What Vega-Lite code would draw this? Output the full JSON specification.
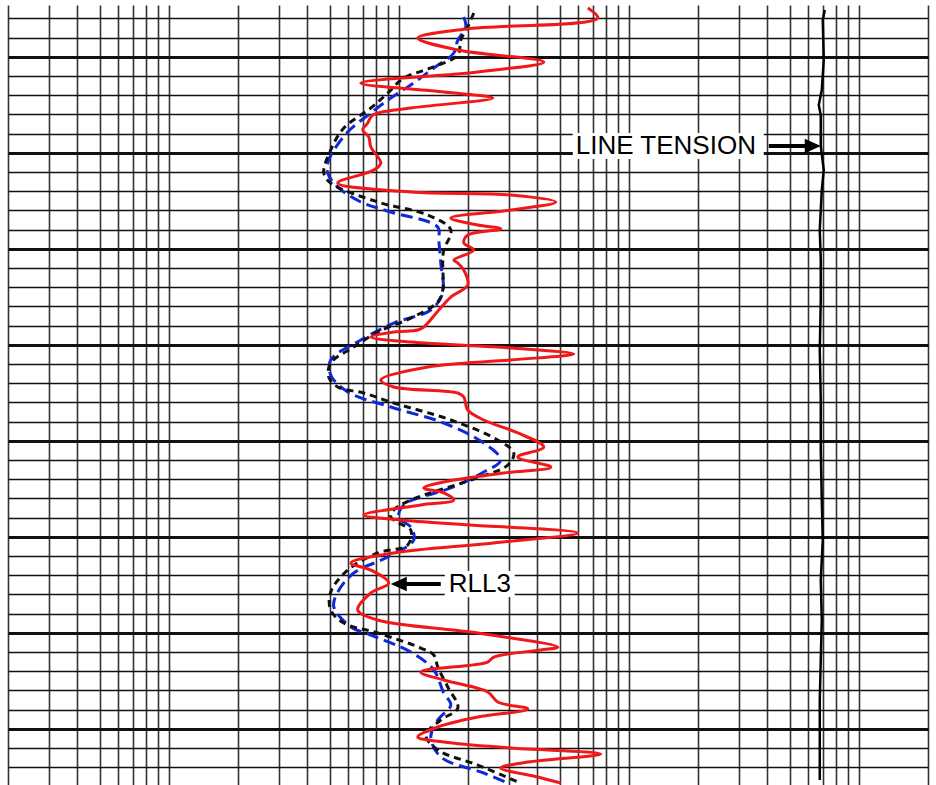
{
  "$schema": "https://vega.github.io/schema/vega-lite/v6.json",
  "width": 920,
  "height": 780,
  "autosize": {"type": "none"},
  "padding": {"left": 8, "top": 5, "right": 8, "bottom": 0},
  "background": "white",
  "config": {"view": {"stroke": null}},
  "datasets": {
    "red": [
      {"depth": 4994.91, "value": 663.5}, {"depth": 4995.96, "value": 733.5}, {"depth": 4997.10, "value": 195.6},
      {"depth": 4998.04, "value": 121.0}, {"depth": 4999.29, "value": 180.6}, {"depth": 5000.54, "value": 427.1},
      {"depth": 5001.58, "value": 220.6}, {"depth": 5002.73, "value": 68.4}, {"depth": 5003.66, "value": 156.9},
      {"depth": 5004.29, "value": 256.3}, {"depth": 5005.33, "value": 112.8}, {"depth": 5006.06, "value": 77.1},
      {"depth": 5006.89, "value": 73.3}, {"depth": 5007.62, "value": 69.7}, {"depth": 5008.35, "value": 74.1},
      {"depth": 5009.39, "value": 75.6}, {"depth": 5011.06, "value": 83.5}, {"depth": 5011.79, "value": 77.9},
      {"depth": 5013.14, "value": 54.3}, {"depth": 5014.08, "value": 112.8}, {"depth": 5014.39, "value": 306.9},
      {"depth": 5015.12, "value": 481.5}, {"depth": 5015.96, "value": 306.9}, {"depth": 5016.79, "value": 168.4},
      {"depth": 5017.52, "value": 220.6}, {"depth": 5017.93, "value": 277.6}, {"depth": 5018.56, "value": 199.5},
      {"depth": 5019.39, "value": 191.7}, {"depth": 5020.12, "value": 211.9}, {"depth": 5021.16, "value": 173.5},
      {"depth": 5021.48, "value": 180.6}, {"depth": 5022.21, "value": 191.7}, {"depth": 5023.77, "value": 199.5},
      {"depth": 5025.02, "value": 168.4}, {"depth": 5026.37, "value": 149.3}, {"depth": 5028.14, "value": 128.5},
      {"depth": 5028.46, "value": 121.0}, {"depth": 5028.66, "value": 95.1}, {"depth": 5029.18, "value": 75.6},
      {"depth": 5029.71, "value": 112.8}, {"depth": 5030.33, "value": 306.9}, {"depth": 5030.96, "value": 576.6},
      {"depth": 5031.58, "value": 306.9}, {"depth": 5032.31, "value": 133.7}, {"depth": 5033.66, "value": 83.5},
      {"depth": 5034.39, "value": 95.1}, {"depth": 5035.02, "value": 180.6}, {"depth": 5035.43, "value": 191.7},
      {"depth": 5036.79, "value": 199.5}, {"depth": 5037.83, "value": 234.2}, {"depth": 5039.18, "value": 329.2},
      {"depth": 5040.64, "value": 427.1}, {"depth": 5041.68, "value": 329.2}, {"depth": 5042.73, "value": 458.1},
      {"depth": 5043.35, "value": 286.1}, {"depth": 5044.29, "value": 156.9}, {"depth": 5044.91, "value": 128.5},
      {"depth": 5045.43, "value": 156.9}, {"depth": 5046.16, "value": 173.5}, {"depth": 5046.68, "value": 124.7},
      {"depth": 5047.73, "value": 70.4}, {"depth": 5048.25, "value": 102.0}, {"depth": 5048.77, "value": 205.6},
      {"depth": 5049.60, "value": 600.1}, {"depth": 5050.64, "value": 258.8}, {"depth": 5051.68, "value": 95.1},
      {"depth": 5052.73, "value": 61.9}, {"depth": 5053.46, "value": 75.6}, {"depth": 5054.81, "value": 90.5},
      {"depth": 5055.85, "value": 75.6}, {"depth": 5057.62, "value": 66.3}, {"depth": 5058.66, "value": 81.0},
      {"depth": 5060.02, "value": 220.6}, {"depth": 5061.48, "value": 491.3}, {"depth": 5061.79, "value": 414.4},
      {"depth": 5062.52, "value": 258.8}, {"depth": 5063.04, "value": 243.8}, {"depth": 5064.08, "value": 124.7},
      {"depth": 5064.91, "value": 156.9}, {"depth": 5066.16, "value": 243.8}, {"depth": 5067.21, "value": 269.4},
      {"depth": 5067.93, "value": 363.9}, {"depth": 5068.77, "value": 220.6}, {"depth": 5069.81, "value": 147.8},
      {"depth": 5070.85, "value": 121.0}, {"depth": 5071.37, "value": 156.9}, {"depth": 5072.00, "value": 306.9},
      {"depth": 5072.62, "value": 755.6}, {"depth": 5073.46, "value": 363.9}, {"depth": 5074.08, "value": 277.6},
      {"depth": 5075.02, "value": 402.2}, {"depth": 5075.64, "value": 506.3}
    ],
    "black": [
      {"depth": 4995.43, "value": 211.9}, {"depth": 4996.89, "value": 199.5}, {"depth": 4998.25, "value": 186.1},
      {"depth": 4999.81, "value": 180.6}, {"depth": 5001.16, "value": 137.8}, {"depth": 5002.21, "value": 105.1},
      {"depth": 5003.77, "value": 89.6}, {"depth": 5005.33, "value": 75.6}, {"depth": 5007.41, "value": 57.7},
      {"depth": 5009.71, "value": 50.6}, {"depth": 5012.10, "value": 47.2}, {"depth": 5013.14, "value": 50.6},
      {"depth": 5015.12, "value": 81.0}, {"depth": 5016.48, "value": 133.7}, {"depth": 5018.04, "value": 168.4},
      {"depth": 5020.12, "value": 156.9}, {"depth": 5021.48, "value": 155.3}, {"depth": 5024.29, "value": 155.3},
      {"depth": 5025.54, "value": 147.8}, {"depth": 5027.21, "value": 112.8}, {"depth": 5028.66, "value": 81.0},
      {"depth": 5030.23, "value": 63.7}, {"depth": 5031.89, "value": 50.6}, {"depth": 5033.35, "value": 49.6},
      {"depth": 5034.39, "value": 54.3}, {"depth": 5035.02, "value": 70.4}, {"depth": 5036.06, "value": 95.1},
      {"depth": 5037.83, "value": 168.4}, {"depth": 5039.91, "value": 269.4}, {"depth": 5041.27, "value": 316.2},
      {"depth": 5042.52, "value": 297.8}, {"depth": 5044.08, "value": 205.6}, {"depth": 5046.16, "value": 112.8},
      {"depth": 5047.21, "value": 95.1}, {"depth": 5047.93, "value": 92.3}, {"depth": 5048.56, "value": 100.0},
      {"depth": 5049.29, "value": 112.8}, {"depth": 5050.85, "value": 109.4}, {"depth": 5051.68, "value": 81.0},
      {"depth": 5053.46, "value": 60.0}, {"depth": 5055.75, "value": 50.6}, {"depth": 5057.62, "value": 50.6},
      {"depth": 5058.98, "value": 57.7}, {"depth": 5060.02, "value": 81.0}, {"depth": 5061.58, "value": 124.7},
      {"depth": 5062.31, "value": 142.0}, {"depth": 5063.56, "value": 147.8}, {"depth": 5065.64, "value": 163.3},
      {"depth": 5067.83, "value": 180.6}, {"depth": 5069.08, "value": 152.3}, {"depth": 5070.64, "value": 131.1},
      {"depth": 5072.21, "value": 147.8}, {"depth": 5073.77, "value": 220.6}, {"depth": 5075.54, "value": 329.2}
    ],
    "blue": [
      {"depth": 4995.85, "value": 191.7}, {"depth": 4996.89, "value": 195.6}, {"depth": 4998.25, "value": 180.6},
      {"depth": 4999.60, "value": 173.5}, {"depth": 5001.16, "value": 142.0}, {"depth": 5002.93, "value": 112.8},
      {"depth": 5004.29, "value": 92.3}, {"depth": 5005.85, "value": 75.6}, {"depth": 5007.83, "value": 60.0},
      {"depth": 5010.75, "value": 49.6}, {"depth": 5012.10, "value": 49.1}, {"depth": 5013.56, "value": 54.3},
      {"depth": 5015.12, "value": 68.4}, {"depth": 5016.16, "value": 92.3}, {"depth": 5017.73, "value": 147.8},
      {"depth": 5019.08, "value": 149.3}, {"depth": 5021.48, "value": 152.3}, {"depth": 5024.60, "value": 155.3},
      {"depth": 5026.37, "value": 137.8}, {"depth": 5027.73, "value": 95.1}, {"depth": 5029.50, "value": 68.4},
      {"depth": 5031.58, "value": 50.6}, {"depth": 5033.14, "value": 50.6}, {"depth": 5034.91, "value": 60.0},
      {"depth": 5036.48, "value": 92.3}, {"depth": 5038.14, "value": 156.9}, {"depth": 5040.23, "value": 234.2},
      {"depth": 5042.00, "value": 277.6}, {"depth": 5043.25, "value": 234.2}, {"depth": 5044.91, "value": 168.4},
      {"depth": 5046.68, "value": 105.1}, {"depth": 5048.04, "value": 100.0}, {"depth": 5048.98, "value": 112.8},
      {"depth": 5050.33, "value": 116.2}, {"depth": 5052.10, "value": 89.6}, {"depth": 5053.77, "value": 63.7},
      {"depth": 5055.75, "value": 54.3}, {"depth": 5057.31, "value": 52.2}, {"depth": 5059.39, "value": 61.9},
      {"depth": 5060.23, "value": 75.6}, {"depth": 5062.00, "value": 112.8}, {"depth": 5063.87, "value": 142.0},
      {"depth": 5066.27, "value": 156.9}, {"depth": 5067.52, "value": 168.4}, {"depth": 5069.08, "value": 147.8},
      {"depth": 5070.85, "value": 137.8}, {"depth": 5072.93, "value": 152.3}, {"depth": 5074.60, "value": 234.2},
      {"depth": 5075.64, "value": 297.8}
    ],
    "tension": [
      {"depth": 4995.12, "value": 7115}, {"depth": 4996.16, "value": 6974}, {"depth": 5000.33, "value": 7044},
      {"depth": 5003.46, "value": 6905}, {"depth": 5005.02, "value": 6700}, {"depth": 5006.06, "value": 6836},
      {"depth": 5009.29, "value": 6836}, {"depth": 5011.79, "value": 7044}, {"depth": 5013.87, "value": 6905},
      {"depth": 5018.04, "value": 6768}, {"depth": 5021.16, "value": 6836}, {"depth": 5025.33, "value": 6836},
      {"depth": 5030.54, "value": 6768}, {"depth": 5035.75, "value": 6836}, {"depth": 5040.96, "value": 6836},
      {"depth": 5046.16, "value": 6905}, {"depth": 5050.33, "value": 6974}, {"depth": 5054.50, "value": 6836},
      {"depth": 5058.66, "value": 6905}, {"depth": 5062.83, "value": 6836}, {"depth": 5067.00, "value": 6768},
      {"depth": 5071.16, "value": 6768}, {"depth": 5075.33, "value": 6768}
    ],
    "boxes": [
      {"value": 570.8, "value2": 3864, "depth": 5007.93, "depth2": 5010.64},
      {"value": 158.5, "value2": 319.4, "depth": 5053.56, "depth2": 5056.27}
    ],
    "labels": [
      {"value": 588.4, "depth": 5009.29, "label": "LINE TENSION"},
      {"value": 165.0, "depth": 5054.91, "label": "RLL3"}
    ],
    "shafts": [
      {"value": 4062, "value2": 5884, "depth": 5009.29},
      {"value": 106.2, "value2": 152.3, "depth": 5054.91}
    ],
    "heads": [
      {"value": 6310, "depth": 5009.29, "dir": "right"},
      {"value": 100, "depth": 5054.91, "dir": "left"}
    ]
  },
  "layer": [
    {
      "data": {"name": "blue"},
      "mark": {"type": "line", "color": "#1028d8", "strokeWidth": 3, "strokeDash": [12, 6], "interpolate": "catmull-rom"},
      "encoding": {
        "x": {
          "field": "value", "type": "quantitative",
          "scale": {"type": "log", "domain": [2, 20000], "nice": false},
          "axis": {
            "values": [2,3,4,5,6,7,8,9,10,20,30,40,50,60,70,80,90,100,200,300,400,500,600,700,800,900,1000,2000,3000,4000,5000,6000,7000,8000,9000,10000,20000],
            "tickCount": 200,
            "grid": true, "gridColor": "#333333", "gridWidth": 1.6,
            "labels": false, "ticks": false, "domain": false, "title": null
          }
        },
        "y": {
          "field": "depth", "type": "quantitative",
          "scale": {"domain": [4994.6, 5075.85], "reverse": true, "zero": false, "nice": false},
          "axis": {
            "values": [4996,4998,5000,5002,5004,5006,5008,5010,5012,5014,5016,5018,5020,5022,5024,5026,5028,5030,5032,5034,5036,5038,5040,5042,5044,5046,5048,5050,5052,5054,5056,5058,5060,5062,5064,5066,5068,5070,5072,5074],
            "tickCount": 200,
            "grid": true, "gridColor": "#111111",
            "gridWidth": {"condition": {"test": "datum.value % 10 === 0", "value": 3}, "value": 1.5},
            "labels": false, "ticks": false, "domain": false, "title": null
          }
        },
        "order": {"field": "depth", "type": "quantitative"}
      }
    },
    {
      "data": {"name": "black"},
      "mark": {"type": "line", "color": "#111111", "strokeWidth": 3, "strokeDash": [7, 5], "interpolate": "catmull-rom"},
      "encoding": {
        "x": {"field": "value", "type": "quantitative"},
        "y": {"field": "depth", "type": "quantitative"},
        "order": {"field": "depth", "type": "quantitative"}
      }
    },
    {
      "data": {"name": "red"},
      "mark": {"type": "line", "color": "#f01818", "strokeWidth": 3, "interpolate": "catmull-rom"},
      "encoding": {
        "x": {"field": "value", "type": "quantitative"},
        "y": {"field": "depth", "type": "quantitative"},
        "order": {"field": "depth", "type": "quantitative"}
      }
    },
    {
      "data": {"name": "tension"},
      "mark": {"type": "line", "color": "#000000", "strokeWidth": 2.5},
      "encoding": {
        "x": {"field": "value", "type": "quantitative"},
        "y": {"field": "depth", "type": "quantitative"},
        "order": {"field": "depth", "type": "quantitative"}
      }
    },
    {
      "mark": {"type": "rule", "color": "#000000", "strokeWidth": 3},
      "encoding": {"x": {"datum": 2}}
    },
    {
      "mark": {"type": "rule", "color": "#000000", "strokeWidth": 3},
      "encoding": {"x": {"datum": 20000}}
    },
    {
      "mark": {"type": "rule", "color": "#000000", "strokeWidth": 3},
      "encoding": {"y": {"datum": 4994.6}}
    },
    {
      "data": {"name": "boxes"},
      "mark": {"type": "rect", "color": "white"},
      "encoding": {
        "x": {"field": "value", "type": "quantitative"},
        "x2": {"field": "value2"},
        "y": {"field": "depth", "type": "quantitative"},
        "y2": {"field": "depth2"}
      }
    },
    {
      "data": {"name": "labels"},
      "mark": {"type": "text", "align": "left", "baseline": "middle", "font": "Liberation Sans", "fontSize": 26, "color": "#000000"},
      "encoding": {
        "x": {"field": "value", "type": "quantitative"},
        "y": {"field": "depth", "type": "quantitative"},
        "text": {"field": "label"}
      }
    },
    {
      "data": {"name": "shafts"},
      "mark": {"type": "rule", "color": "#000000", "strokeWidth": 4},
      "encoding": {
        "x": {"field": "value", "type": "quantitative"},
        "x2": {"field": "value2"},
        "y": {"field": "depth", "type": "quantitative"}
      }
    },
    {
      "data": {"name": "heads"},
      "mark": {"type": "point", "filled": true, "color": "#000000", "size": 256, "opacity": 1, "strokeWidth": 0},
      "encoding": {
        "x": {"field": "value", "type": "quantitative"},
        "y": {"field": "depth", "type": "quantitative"},
        "shape": {
          "field": "dir", "type": "nominal",
          "scale": {"domain": ["right", "left"], "range": ["M-1,-0.9L1,0L-1,0.9Z", "M1,-0.9L-1,0L1,0.9Z"]},
          "legend": null
        }
      }
    }
  ]
}
